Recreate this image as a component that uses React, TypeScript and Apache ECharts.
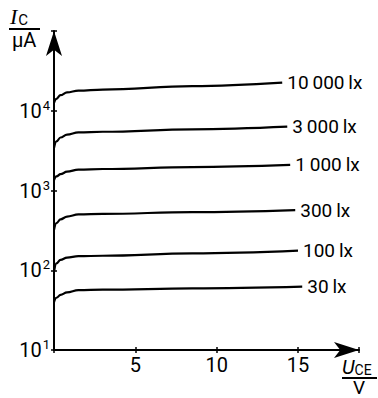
import React, { useEffect, useRef } from "react";
import * as echarts from "echarts";

// U_CE in V
const v10000 = [0, 0.15, 0.4, 0.8, 1.5, 3, 8.5, 14.03];
const v3000 = [0, 0.15, 0.4, 0.8, 1.5, 3, 8.5, 14.34];
const v1000 = [0, 0.15, 0.4, 0.8, 1.5, 3, 8.5, 14.52];
const v300 = [0, 0.15, 0.4, 0.8, 1.5, 3, 8.5, 14.83];
const v100 = [0, 0.15, 0.4, 0.8, 1.5, 3, 8.5, 15.0];
const v30 = [0, 0.15, 0.4, 0.8, 1.5, 3, 8.5, 15.26];

// I_C in µA
const i10000 = [12600, 14130, 15670, 16980, 17860, 18450, 20370, 22490];
const i3000 = [3410, 4120, 4620, 5010, 5350, 5450, 5850, 6310];
const i1000 = [1355, 1500, 1600, 1720, 1830, 1860, 1968, 2090];
const i300 = [320, 389, 435, 470, 501, 509, 536, 569];
const i100 = [95, 122, 135, 144, 150, 152, 162.6, 176];
const i30 = [39.8, 45.2, 49.0, 52.7, 56.2, 57.0, 59.3, 62.2];

const seriesNames = [
  "10\u2009000\u2009lx",
  "3\u2009000\u2009lx",
  "1\u2009000\u2009lx",
  "300\u2009lx",
  "100\u2009lx",
  "30\u2009lx",
];
const seriesV = [v10000, v3000, v1000, v300, v100, v30];
const seriesI = [i10000, i3000, i1000, i300, i100, i30];

const xTicks = [5, 10, 15];

const FONT = "Roboto, 'Liberation Sans', sans-serif";

export default function App() {
  const ref = useRef<HTMLDivElement>(null);
  useEffect(() => {
    if (!ref.current) return;
    const chart = echarts.init(ref.current, null, { renderer: "svg" });
    const axisCommonX = {
      type: "value" as const,
      min: 0,
      max: 18.75,
      interval: 5,
      splitLine: { show: false },
    };
    const axisCommonY = {
      type: "log" as const,
      logBase: 10,
      min: 10,
      max: 100000,
      splitLine: { show: false },
      minorTick: { show: false },
    };
    chart.setOption({
      animation: false,
      backgroundColor: "#fff",
      grid: { left: 54, right: 19, top: 31, bottom: 48, containLabel: false },
      xAxis: [
        {
          ...axisCommonX,
          axisLine: {
            show: true,
            symbol: ["none", "arrow"],
            symbolSize: [12, 25],
            lineStyle: { color: "#000", width: 2 },
          },
          axisTick: { show: true, length: 3, lineStyle: { color: "#000", width: 1.5 } },
          axisLabel: {
            show: true,
            margin: 5,
            color: "#000",
            fontSize: 20,
            fontFamily: FONT,
            formatter: (v: number) => (xTicks.indexOf(v) >= 0 ? String(v) : ""),
          },
        },
        {
          ...axisCommonX,
          position: "bottom",
          axisLine: { show: false },
          axisTick: { show: true, inside: true, length: 3, lineStyle: { color: "#000", width: 1.5 } },
          axisLabel: { show: false },
        },
      ],
      yAxis: [
        {
          ...axisCommonY,
          axisLine: {
            show: true,
            symbol: ["none", "arrow"],
            symbolSize: [12, 25],
            lineStyle: { color: "#000", width: 2 },
          },
          axisTick: { show: true, length: 3, lineStyle: { color: "#000", width: 1.5 } },
          axisLabel: {
            show: true,
            margin: 4,
            color: "#000",
            fontFamily: FONT,
            formatter: (v: number) => {
              const e = Math.round(Math.log10(v));
              if (e >= 5) return "";
              return `{a|10}{b|${e}}`;
            },
            rich: {
              a: { fontSize: 20, fontFamily: FONT, color: "#000" },
              b: { fontSize: 13, fontFamily: FONT, color: "#000", padding: [0, 0, 11, 1] },
            },
          },
        },
        {
          ...axisCommonY,
          position: "left",
          axisLine: { show: false },
          axisTick: { show: true, inside: true, length: 3, lineStyle: { color: "#000", width: 1.5 } },
          axisLabel: { show: false },
        },
      ],
      series: seriesNames.map((name, k) => ({
        type: "line",
        name,
        xAxisIndex: 0,
        yAxisIndex: 0,
        data: seriesV[k].map((v, j) => [v, seriesI[k][j]]),
        smooth: 0.4,
        smoothMonotone: "x",
        showSymbol: false,
        symbol: "none",
        lineStyle: { color: "#000", width: 2.2 },
        endLabel: {
          show: true,
          formatter: "{a}",
          distance: 5,
          color: "#000",
          fontSize: 19,
          fontFamily: FONT,
        },
      })),
      graphic: [
        {
          type: "text",
          x: 10,
          y: 5,
          style: {
            text: "{i|I}{s|C}",
            rich: {
              i: { fontSize: 22, fontFamily: "'Liberation Serif', serif", fontStyle: "italic", fill: "#000" },
              s: { fontSize: 15, fontFamily: FONT, fill: "#000", padding: [7, 0, 0, 1] },
            },
          },
        },
        {
          type: "line",
          shape: { x1: 9, y1: 29, x2: 40, y2: 29 },
          style: { stroke: "#000", lineWidth: 2 },
        },
        {
          type: "text",
          x: 12,
          y: 30,
          style: { text: "µA", fontSize: 20, fontFamily: FONT, fill: "#000" },
        },
        {
          type: "text",
          x: 342,
          y: 356,
          style: {
            text: "{i|U}{s|CE}",
            rich: {
              i: { fontSize: 20, fontFamily: FONT, fontStyle: "italic", fill: "#000" },
              s: { fontSize: 14, fontFamily: FONT, fill: "#000", padding: [7, 0, 0, 0] },
            },
          },
        },
        {
          type: "line",
          shape: { x1: 342, y1: 378, x2: 377, y2: 378 },
          style: { stroke: "#000", lineWidth: 2 },
        },
        {
          type: "text",
          x: 353,
          y: 378,
          style: { text: "V", fontSize: 19, fontFamily: FONT, fill: "#000" },
        },
      ],
    });
    return () => chart.dispose();
  }, []);
  return (
    <div
      ref={ref}
      style={{ position: "fixed", left: 0, top: 0, width: 378, height: 398, background: "#fff" }}
    />
  );
}
